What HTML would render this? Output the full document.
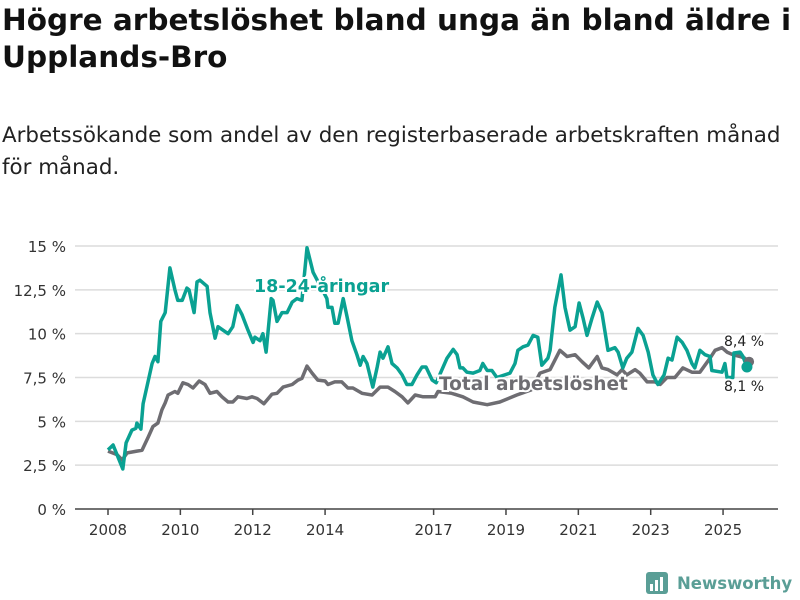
<!DOCTYPE html>
<html><head><meta charset="utf-8">
<style>
body{margin:0;background:#fff;width:800px;height:600px;overflow:hidden;font-family:"DejaVu Sans",sans-serif;}
h1{position:absolute;left:2px;top:2px;margin:0;font-size:29.5px;line-height:37px;font-weight:bold;color:#111;width:796px;letter-spacing:0px;}
.sub{position:absolute;left:2px;top:120px;margin:0;font-size:21.4px;line-height:32px;color:#222;width:795px;}
svg{position:absolute;left:0;top:0;}
</style></head><body>
<h1>Högre arbetslöshet bland unga än bland äldre i Upplands-Bro</h1>
<p class="sub">Arbetssökande som andel av den registerbaserade arbetskraften månad för månad.</p>
<svg id="chart" width="800" height="600"></svg>
<script>
const youthYears=[2008.00,2008.14,2008.41,2008.50,2008.66,2008.77,2008.80,2008.91,2008.97,2009.22,2009.30,2009.38,2009.46,2009.58,2009.71,2009.85,2009.93,2010.05,2010.18,2010.24,2010.38,2010.46,2010.54,2010.74,2010.82,2010.96,2011.04,2011.32,2011.45,2011.57,2011.70,2011.87,2012.01,2012.06,2012.20,2012.28,2012.37,2012.51,2012.56,2012.67,2012.81,2012.95,2013.09,2013.22,2013.36,2013.50,2013.67,2014.05,2014.08,2014.19,2014.27,2014.36,2014.50,2014.61,2014.74,2014.88,2014.97,2015.05,2015.16,2015.32,2015.44,2015.52,2015.60,2015.74,2015.85,2015.99,2016.13,2016.26,2016.40,2016.54,2016.68,2016.79,2016.96,2017.07,2017.37,2017.54,2017.65,2017.73,2017.81,2017.92,2018.09,2018.28,2018.36,2018.48,2018.61,2018.75,2019.11,2019.25,2019.33,2019.47,2019.61,2019.75,2019.88,2019.99,2020.16,2020.22,2020.35,2020.52,2020.63,2020.77,2020.91,2021.02,2021.13,2021.24,2021.38,2021.52,2021.65,2021.82,2022.01,2022.10,2022.23,2022.34,2022.48,2022.65,2022.79,2022.93,2023.06,2023.20,2023.37,2023.48,2023.59,2023.73,2023.87,2024.00,2024.14,2024.22,2024.36,2024.50,2024.64,2024.69,2024.97,2025.05,2025.11,2025.27,2025.30,2025.47,2025.55,2025.66];
const youthValues=[3.37,3.65,2.28,3.77,4.5,4.6,4.9,4.55,6.0,8.3,8.7,8.4,10.7,11.2,13.75,12.5,11.9,11.9,12.6,12.5,11.2,12.95,13.05,12.7,11.2,9.75,10.4,10.0,10.4,11.6,11.1,10.2,9.5,9.8,9.6,10.0,8.95,12.0,11.9,10.7,11.2,11.2,11.8,12.0,11.9,14.9,13.5,12.0,11.5,11.5,10.6,10.6,12.0,10.95,9.6,8.8,8.2,8.7,8.3,6.95,8.1,8.95,8.6,9.25,8.3,8.05,7.65,7.1,7.1,7.65,8.1,8.1,7.35,7.2,8.6,9.1,8.8,8.05,8.05,7.8,7.75,7.9,8.3,7.9,7.9,7.5,7.75,8.3,9.05,9.25,9.35,9.9,9.8,8.2,8.6,9.05,11.5,13.35,11.5,10.2,10.4,11.75,10.9,9.9,10.9,11.8,11.2,9.05,9.2,8.95,8.05,8.6,8.95,10.3,9.9,8.95,7.65,7.1,7.65,8.6,8.5,9.8,9.5,9.05,8.3,8.05,9.05,8.8,8.7,7.9,7.8,8.3,7.5,7.5,8.9,8.95,8.7,8.1];
const totalYears=[2008.00,2008.25,2008.39,2008.53,2008.80,2008.94,2009.11,2009.24,2009.38,2009.49,2009.58,2009.66,2009.85,2009.93,2010.07,2010.21,2010.35,2010.52,2010.68,2010.82,2011.01,2011.15,2011.32,2011.45,2011.59,2011.84,2011.98,2012.12,2012.31,2012.53,2012.67,2012.84,2013.09,2013.25,2013.36,2013.50,2013.64,2013.80,2014.00,2014.08,2014.27,2014.46,2014.63,2014.77,2015.02,2015.30,2015.52,2015.74,2015.93,2016.13,2016.29,2016.49,2016.71,2017.04,2017.12,2017.50,2017.81,2018.09,2018.48,2018.83,2019.30,2019.70,2019.94,2020.22,2020.49,2020.69,2020.91,2021.10,2021.29,2021.52,2021.65,2021.82,2022.07,2022.21,2022.34,2022.57,2022.70,2022.90,2023.12,2023.26,2023.45,2023.67,2023.89,2024.14,2024.36,2024.64,2024.78,2024.97,2025.11,2025.27,2025.47,2025.60,2025.72];
const totalValues=[3.3,3.1,2.8,3.2,3.3,3.35,4.1,4.7,4.9,5.65,6.05,6.5,6.7,6.6,7.2,7.1,6.9,7.3,7.1,6.6,6.7,6.4,6.1,6.1,6.4,6.3,6.4,6.3,6.0,6.55,6.6,6.95,7.1,7.35,7.45,8.15,7.75,7.35,7.3,7.1,7.25,7.25,6.9,6.9,6.6,6.5,6.95,6.95,6.7,6.4,6.05,6.5,6.4,6.4,6.7,6.6,6.4,6.1,5.95,6.1,6.5,6.8,7.75,7.95,9.05,8.7,8.8,8.4,8.05,8.7,8.05,7.95,7.65,7.95,7.65,7.95,7.75,7.25,7.25,7.1,7.5,7.5,8.05,7.8,7.8,8.6,9.05,9.2,8.95,8.8,8.7,8.6,8.4];
const yTicks=[0,2.5,5,7.5,10,12.5,15];
const yTickLabels=["0 %","2,5 %","5 %","7,5 %","10 %","12,5 %","15 %"];
const xTicks=[2008,2010,2012,2014,2017,2019,2021,2023,2025];

const NS="http://www.w3.org/2000/svg";
const svg=document.getElementById('chart');
const FONT='DejaVu Sans, sans-serif';
const X=y=>108+(y-2008)*36.18;
const Y=v=>509-v*17.533;
function mk(tag,attrs,parent){const e=document.createElementNS(NS,tag);for(const k in attrs)e.setAttribute(k,attrs[k]);(parent||svg).appendChild(e);return e;}
const TEAL="#0aa192",GRAY="#6e6d72";
yTicks.forEach((t,i)=>{
  const g=mk('line',{x1:75,x2:778,y1:Y(t),y2:Y(t),stroke:i===0?'#444':'#dcdcdc','stroke-width':1.5});
  
  
  const tx=mk('text',{x:66,y:Y(t)+6,'text-anchor':'end','font-size':15,fill:'#333','font-family':FONT});
  tx.textContent=yTickLabels[i];
  
  
});
xTicks.forEach(t=>{
  const l=mk('line',{x1:X(t),x2:X(t),y1:509,y2:515,stroke:'#444','stroke-width':1.5});
  
  
  const tx=mk('text',{x:X(t),y:535,'text-anchor':'middle','font-size':15,fill:'#333','font-family':FONT});
  tx.textContent=t;
  
  
});
function path(xs,vs){return xs.map((x,i)=>(i?'L':'M')+X(x).toFixed(1)+','+Y(vs[i]).toFixed(1)).join('');}
const pt=mk('path',{d:path(totalYears,totalValues),fill:'none',stroke:GRAY,'stroke-width':3.5,'stroke-linejoin':'round'});


const py=mk('path',{d:path(youthYears,youthValues),fill:'none',stroke:TEAL,'stroke-width':3.5,'stroke-linejoin':'round'});


const lt=totalYears.length-1,ly=youthYears.length-1;
const d1=mk('circle',{cx:X(totalYears[lt]),cy:Y(totalValues[lt]),r:5,fill:GRAY});


const d2=mk('circle',{cx:X(youthYears[ly]),cy:Y(youthValues[ly]),r:5.5,fill:TEAL});


function label(txt,x,y,size,color,weight,name,anchor){
  const t=mk('text',{x:x,y:y,'font-size':size,fill:color,'font-weight':weight,'text-anchor':anchor||'start',stroke:'#fff','stroke-width':4,'paint-order':'stroke','font-family':FONT});
  t.textContent=txt;
  
  
}
label('18-24-åringar',254,292,17.5,TEAL,'bold','youth-series-label');
label('Total arbetslöshet',439,390,18.5,GRAY,'bold','total-series-label');
label('8,4 %',724,346,14,'#222','normal','total-end-value');
label('8,1 %',724,391,14,'#222','normal','youth-end-value');
const lg=mk('g',{});


mk('rect',{x:646,y:572,width:22,height:22,rx:3,fill:'#5a9e96'},lg);
mk('rect',{x:650,y:584,width:3,height:7,fill:'#fff'},lg);
mk('rect',{x:655,y:580,width:3,height:11,fill:'#fff'},lg);
mk('rect',{x:660,y:577,width:3,height:14,fill:'#fff'},lg);
const lt2=mk('text',{x:677,y:589,'font-size':16.5,'font-weight':'bold',fill:'#5a9e96','font-family':FONT},lg);
lt2.textContent='Newsworthy';
</script>
</body></html>
